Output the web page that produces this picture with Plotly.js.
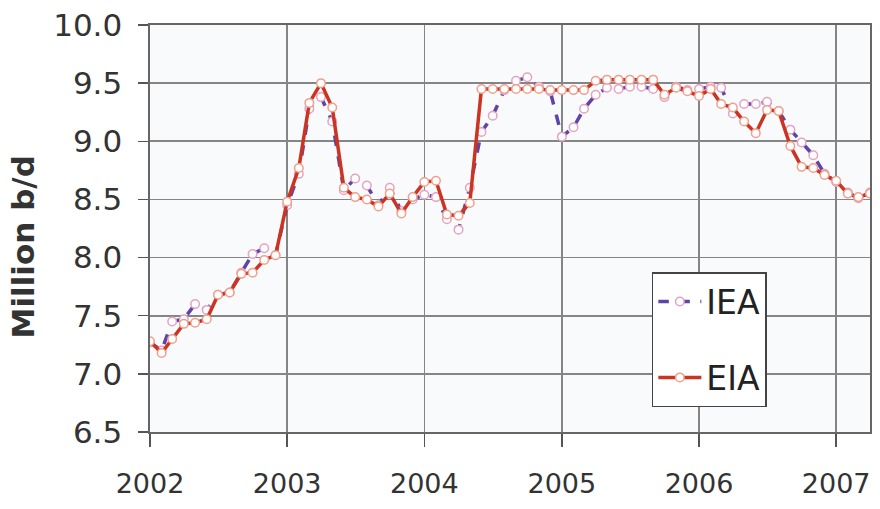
<!DOCTYPE html>
<html>
<head>
<meta charset="utf-8">
<script src="https://cdn.plot.ly/plotly-3.0.1.min.js"></script>
<style>html,body{margin:0;padding:0;background:#fff;}#chart{width:880px;height:509px;}</style>
</head>
<body>
<div id="chart"></div>
<script>
// Monthly data, Jan 2002 .. Apr 2007
var startYear = 2002;
var monthCount = 64;
var yearTicks = ["2002", "2003", "2004", "2005", "2006", "2007"];
var yTitle = "Million b/d";

var ieaValues = [
  7.27, 7.20, 7.45, 7.47, 7.60, 7.55, 7.68, 7.70, 7.87, 8.03, 8.08, 8.02,
  8.45, 8.72, 9.28, 9.38, 9.17, 8.58, 8.68, 8.62, 8.45, 8.60, 8.40, 8.50,
  8.54, 8.52, 8.33, 8.24, 8.60, 9.08, 9.22, 9.44, 9.52, 9.55, 9.47, 9.43,
  9.04, 9.12, 9.28, 9.40, 9.46, 9.45, 9.47, 9.47, 9.45, 9.38, 9.47, 9.44,
  9.45, 9.47, 9.46, 9.24, 9.32, 9.32, 9.34, 9.26, 9.10, 8.99, 8.88, 8.72,
  8.65, 8.56, 8.51, 8.56
];
var eiaValues = [
  7.28, 7.18, 7.30, 7.43, 7.44, 7.47, 7.68, 7.70, 7.86, 7.87, 7.98, 8.02,
  8.48, 8.77, 9.33, 9.50, 9.29, 8.60, 8.52, 8.50, 8.44, 8.55, 8.38, 8.52,
  8.65, 8.66, 8.37, 8.36, 8.47, 9.45, 9.45, 9.45, 9.45, 9.45, 9.45, 9.44,
  9.44, 9.44, 9.44, 9.52, 9.53, 9.53, 9.53, 9.53, 9.53, 9.40, 9.46, 9.43,
  9.39, 9.45, 9.32, 9.29, 9.17, 9.07, 9.27, 9.26, 8.96, 8.78, 8.77, 8.71,
  8.66, 8.55, 8.52, 8.55
];

var months = [];
for (var i = 0; i < monthCount; i++) {
  var y = startYear + Math.floor(i / 12);
  var m = (i % 12) + 1;
  months.push(y + "-" + (m < 10 ? "0" + m : m) + "-01");
}
var tickVals = yearTicks.map(function (t) { return t + "-01-01"; });

var font = "DejaVu Sans, Verdana, sans-serif";

var traces = [
  {
    x: months, y: ieaValues, name: "IEA", type: "scatter", mode: "lines+markers",
    legendgroup: "a",
    line: {color: "#5e44a8", width: 3.5, dash: "dash"},
    marker: {symbol: "circle", size: 8.5, color: "#ffffff", line: {color: "#e6a2c2", width: 1.5}}
  },
  {
    x: months, y: eiaValues, name: "EIA", type: "scatter", mode: "lines+markers",
    legendgroup: "b",
    line: {color: "#cc3422", width: 3.5},
    marker: {symbol: "circle", size: 8.5, color: "#ffffff", line: {color: "#f0a08c", width: 1.5}}
  }
];

var layout = {
  width: 880, height: 509,
  margin: {l: 150, r: 10, t: 25, b: 77},
  paper_bgcolor: "#ffffff",
  plot_bgcolor: "#f8fafc",
  showlegend: true,
  font: {family: font, color: "#333333"},
  xaxis: {
    type: "date",
    range: ["2002-01-01", "2007-04-01"],
    tickmode: "array",
    tickvals: tickVals,
    ticktext: yearTicks,
    ticks: "outside", ticklen: 13, tickwidth: 1.5, tickcolor: "#555",
    ticklabelstandoff: 14,
    showgrid: true, gridcolor: "#858585", gridwidth: 1.6,
    showline: true, linecolor: "#666", linewidth: 1.6, mirror: true,
    tickfont: {size: 27, family: font, color: "#333"},
    zeroline: false
  },
  yaxis: {
    range: [6.5, 10.0],
    tickmode: "linear", tick0: 6.5, dtick: 0.5,
    tickformat: ".1f",
    ticks: "outside", ticklen: 10, tickwidth: 1.5, tickcolor: "#555",
    ticklabelstandoff: 10,
    showgrid: true, gridcolor: "#858585", gridwidth: 1.6,
    showline: true, linecolor: "#666", linewidth: 1.6, mirror: true,
    tickfont: {size: 31, family: font, color: "#333"},
    zeroline: false
  },
  annotations: [{
    text: yTitle, textangle: -90, showarrow: false,
    xref: "paper", yref: "paper",
    x: -0.177, y: 0.455, xanchor: "center", yanchor: "middle",
    font: {size: 31, family: font, color: "#333", weight: "bold"}
  }],
  legend: {
    x: 0.697, y: 0.393, xanchor: "left", yanchor: "top",
    bgcolor: "#ffffff", bordercolor: "#444", borderwidth: 1.5,
    font: {size: 33, family: font, color: "#222"},
    traceorder: "grouped", tracegroupgap: 30,
    itemwidth: 43
  }
};

Plotly.newPlot("chart", traces, layout, {displayModeBar: false, staticPlot: true});
</script>
</body>
</html>
